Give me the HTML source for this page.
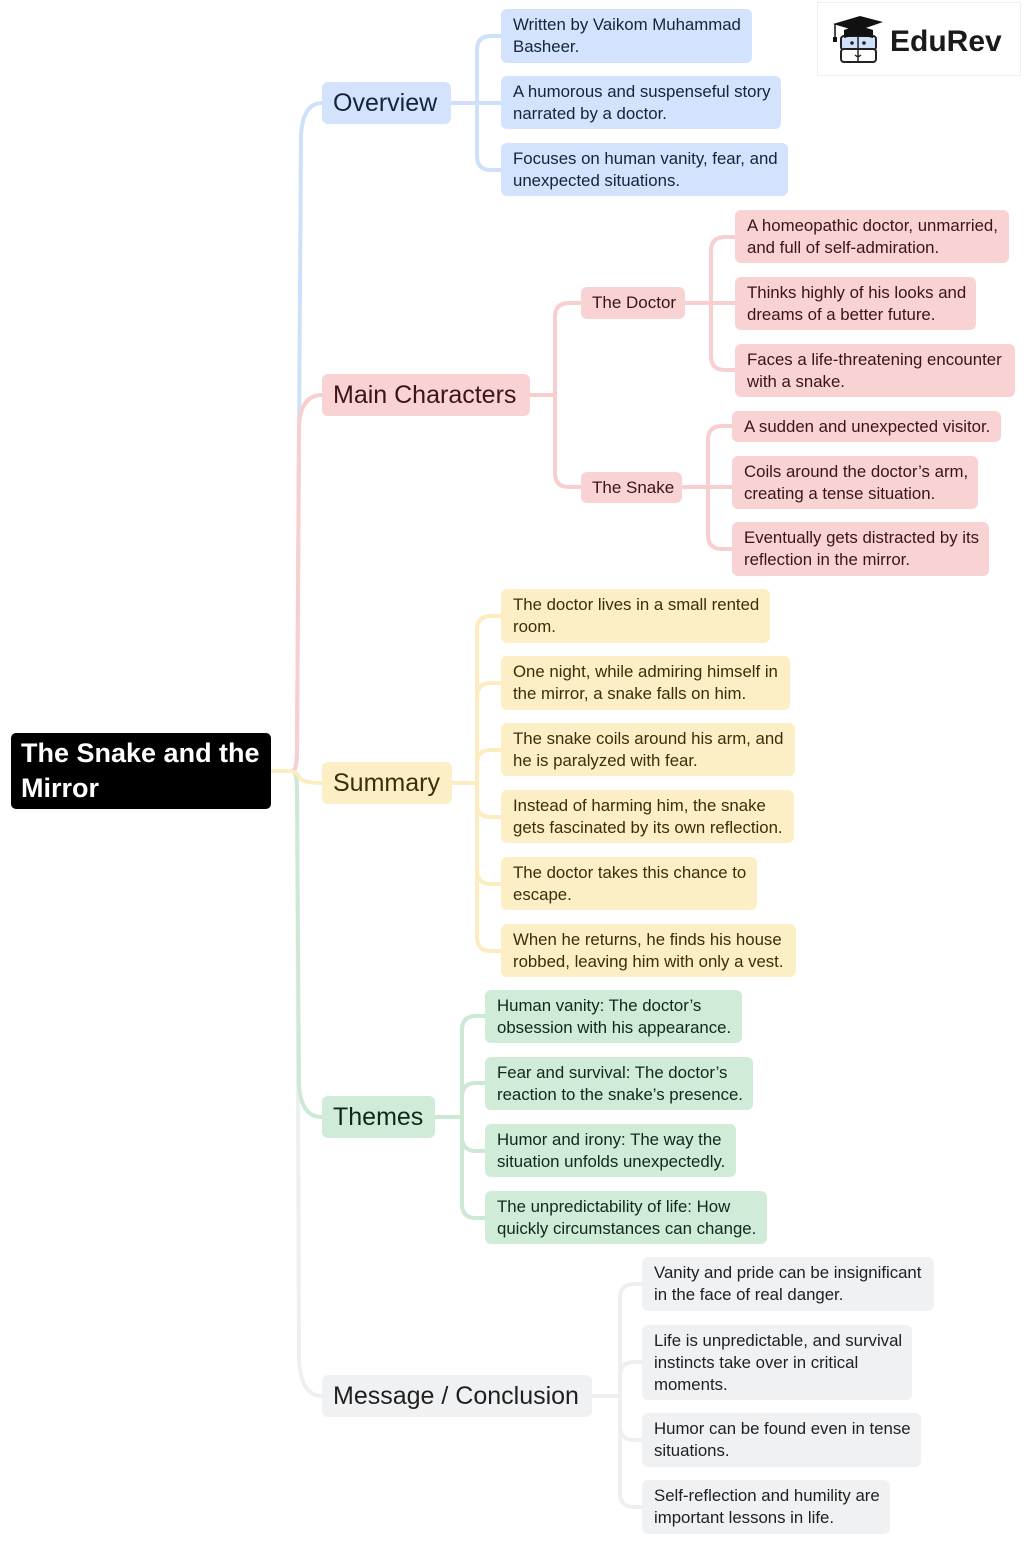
<!DOCTYPE html>
<html>
<head>
<meta charset="utf-8">
<style>
html,body{margin:0;padding:0;background:#fff;}
body{width:1024px;height:1543px;position:relative;overflow:hidden;font-family:"Liberation Sans",Arial,sans-serif;}
.n{position:absolute;box-sizing:border-box;border-radius:6px;display:flex;align-items:center;white-space:nowrap;}
.leaf{font-size:16.8px;line-height:22px;padding-left:12px;}
.l1{font-size:25px;padding-left:11px;height:42px;}
.l2{font-size:17px;padding-left:11px;}
.b{background:#d3e3fd;color:#16233a;}
.p{background:#f9d3d3;color:#3b1515;}
.y{background:#fdefc5;color:#3a2f0b;}
.g{background:#d0ebd8;color:#10291a;}
.k{background:#f0f1f3;color:#1f1f1f;}
svg{position:absolute;left:0;top:0;}
</style>
</head>
<body>
<svg width="1024" height="1543" viewBox="0 0 1024 1543" fill="none" stroke-linecap="round" stroke-linejoin="round">
  <path d="M271,771 H292 Q297,771 297,790 L299,1360 Q301,1396 322,1396" stroke="#eeeff1" stroke-width="4"/>
  <path d="M271,771 H292 Q297,771 297,790 L299,1085 Q301,1117 322,1117" stroke="#cde9d5" stroke-width="4"/>
  <path d="M271,771 H292 Q297,771 297,750 L301,135 Q303,103 322,103" stroke="#cfe0fb" stroke-width="4"/>
  <path d="M271,771 H292 Q297,771 297,750 L299,425 Q301,395 322,395" stroke="#f8cfcf" stroke-width="4"/>
  <path d="M271,771 H288 Q297,771 299,777 Q302,783 322,783" stroke="#fdecbf" stroke-width="4"/>

  <g stroke="#cfe0fb" stroke-width="4">
    <path d="M451,103 H501"/>
    <path d="M477,103 V50 Q477,36 491,36 H501"/>
    <path d="M477,103 V156 Q477,170 491,170 H501"/>
  </g>
  <g stroke="#f8cfcf" stroke-width="4">
    <path d="M530,395 H555 V317 Q555,303 569,303 H581"/>
    <path d="M555,395 V473 Q555,487 569,487 H581"/>
    <path d="M685,303 H735"/>
    <path d="M711,303 V251 Q711,237 725,237 H735"/>
    <path d="M711,303 V356 Q711,370 725,370 H735"/>
    <path d="M682,487 H732"/>
    <path d="M708,487 V440 Q708,426 722,426 H732"/>
    <path d="M708,487 V535 Q708,549 722,549 H732"/>
  </g>
  <g stroke="#fdecbf" stroke-width="4">
    <path d="M452,783 H477"/>
    <path d="M477,783 V630 Q477,616 491,616 H501"/>
    <path d="M477,783 V697 Q477,683 491,683 H501"/>
    <path d="M477,783 V763 Q477,750 491,750 H501"/>
    <path d="M477,783 V803 Q477,817 491,817 H501"/>
    <path d="M477,783 V870 Q477,884 491,884 H501"/>
    <path d="M477,783 V937 Q477,951 491,951 H501"/>
  </g>
  <g stroke="#cde9d5" stroke-width="4">
    <path d="M435,1117 H462"/>
    <path d="M462,1117 V1030 Q462,1016 476,1016 H485"/>
    <path d="M462,1117 V1097 Q462,1083 476,1083 H485"/>
    <path d="M462,1117 V1137 Q462,1151 476,1151 H485"/>
    <path d="M462,1117 V1204 Q462,1218 476,1218 H485"/>
  </g>
  <g stroke="#eeeff1" stroke-width="4">
    <path d="M592,1396 H620"/>
    <path d="M620,1396 V1298 Q620,1284 634,1284 H642"/>
    <path d="M620,1396 V1376 Q620,1362 634,1362 H642"/>
    <path d="M620,1396 V1426 Q620,1440 634,1440 H642"/>
    <path d="M620,1396 V1493 Q620,1507 634,1507 H642"/>
  </g>
</svg>

<div style="position:absolute;left:817px;top:2px;width:204px;height:74px;border:1px solid #efefef;box-sizing:border-box;background:#fff;"></div>
<svg width="1024" height="80" viewBox="0 0 1024 80" style="position:absolute;left:0;top:0;">
  <rect x="841" y="36" width="35" height="14" rx="3" fill="#cfe0f8" stroke="#222" stroke-width="2"/>
  <rect x="841" y="49" width="35" height="13" rx="3" fill="#fff" stroke="#222" stroke-width="2"/>
  <line x1="858" y1="36" x2="858" y2="62" stroke="#222" stroke-width="1.5"/>
  <path d="M844,30 Q858,24 873,30 L873,38 Q858,34 844,38 Z" fill="#111"/>
  <polygon points="833,24 860,16 883,22 857,31" fill="#111"/>
  <line x1="835" y1="24" x2="835" y2="38" stroke="#111" stroke-width="1.5"/>
  <rect x="833" y="37" width="4" height="5" fill="#111"/>
  <circle cx="852" cy="43" r="1.8" fill="#222"/>
  <circle cx="864" cy="43" r="1.8" fill="#222"/>
  <path d="M855,55 Q858,58 861,55" stroke="#222" stroke-width="1.3" fill="none"/>
</svg>
<div style="position:absolute;left:890px;top:22px;font-size:30px;font-weight:bold;color:#1a1a1a;line-height:40px;">EduRev</div>

<div class="n" style="left:11px;top:733px;width:260px;height:76px;background:#000;color:#fff;font-weight:bold;font-size:27px;line-height:35px;padding-left:10px;border-radius:5px;">The Snake and the<br>Mirror</div>

<div class="n l1 b" style="left:322px;top:82px;width:129px;">Overview</div>
<div class="n l1 p" style="left:322px;top:374px;width:208px;">Main Characters</div>
<div class="n l1 y" style="left:322px;top:762px;width:130px;">Summary</div>
<div class="n l1 g" style="left:322px;top:1096px;width:113px;">Themes</div>
<div class="n l1 k" style="left:322px;top:1375px;width:270px;">Message / Conclusion</div>

<div class="n l2 p" style="left:581px;top:287px;width:104px;height:32px;">The Doctor</div>
<div class="n l2 p" style="left:581px;top:472px;width:101px;height:31px;">The Snake</div>

<div class="n leaf b" style="left:501px;top:9px;width:251px;height:54px;">Written by Vaikom Muhammad<br>Basheer.</div>
<div class="n leaf b" style="left:501px;top:76px;width:280px;height:53px;">A humorous and suspenseful story<br>narrated by a doctor.</div>
<div class="n leaf b" style="left:501px;top:143px;width:287px;height:53px;">Focuses on human vanity, fear, and<br>unexpected situations.</div>

<div class="n leaf p" style="left:735px;top:210px;width:274px;height:53px;">A homeopathic doctor, unmarried,<br>and full of self-admiration.</div>
<div class="n leaf p" style="left:735px;top:277px;width:241px;height:53px;">Thinks highly of his looks and<br>dreams of a better future.</div>
<div class="n leaf p" style="left:735px;top:344px;width:280px;height:53px;">Faces a life-threatening encounter<br>with a snake.</div>

<div class="n leaf p" style="left:732px;top:411px;width:269px;height:31px;">A sudden and unexpected visitor.</div>
<div class="n leaf p" style="left:732px;top:456px;width:246px;height:53px;">Coils around the doctor’s arm,<br>creating a tense situation.</div>
<div class="n leaf p" style="left:732px;top:522px;width:257px;height:54px;">Eventually gets distracted by its<br>reflection in the mirror.</div>

<div class="n leaf y" style="left:501px;top:589px;width:269px;height:54px;">The doctor lives in a small rented<br>room.</div>
<div class="n leaf y" style="left:501px;top:656px;width:289px;height:54px;">One night, while admiring himself in<br>the mirror, a snake falls on him.</div>
<div class="n leaf y" style="left:501px;top:723px;width:294px;height:53px;">The snake coils around his arm, and<br>he is paralyzed with fear.</div>
<div class="n leaf y" style="left:501px;top:790px;width:293px;height:53px;">Instead of harming him, the snake<br>gets fascinated by its own reflection.</div>
<div class="n leaf y" style="left:501px;top:857px;width:256px;height:53px;">The doctor takes this chance to<br>escape.</div>
<div class="n leaf y" style="left:501px;top:924px;width:295px;height:53px;">When he returns, he finds his house<br>robbed, leaving him with only a vest.</div>

<div class="n leaf g" style="left:485px;top:990px;width:257px;height:53px;">Human vanity: The doctor’s<br>obsession with his appearance.</div>
<div class="n leaf g" style="left:485px;top:1057px;width:268px;height:53px;">Fear and survival: The doctor’s<br>reaction to the snake’s presence.</div>
<div class="n leaf g" style="left:485px;top:1124px;width:251px;height:53px;">Humor and irony: The way the<br>situation unfolds unexpectedly.</div>
<div class="n leaf g" style="left:485px;top:1191px;width:282px;height:53px;">The unpredictability of life: How<br>quickly circumstances can change.</div>

<div class="n leaf k" style="left:642px;top:1257px;width:292px;height:54px;">Vanity and pride can be insignificant<br>in the face of real danger.</div>
<div class="n leaf k" style="left:642px;top:1325px;width:270px;height:75px;">Life is unpredictable, and survival<br>instincts take over in critical<br>moments.</div>
<div class="n leaf k" style="left:642px;top:1413px;width:279px;height:54px;">Humor can be found even in tense<br>situations.</div>
<div class="n leaf k" style="left:642px;top:1480px;width:248px;height:54px;">Self-reflection and humility are<br>important lessons in life.</div>
</body>
</html>
